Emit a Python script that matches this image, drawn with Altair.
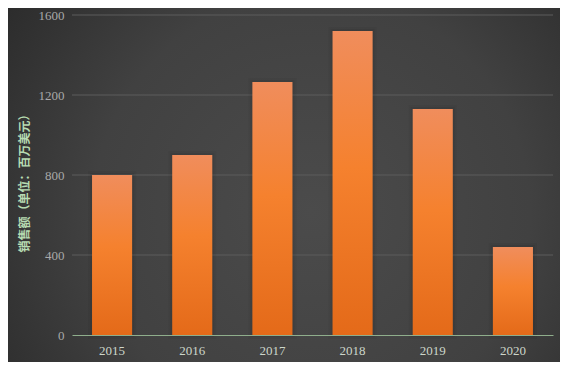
import altair as alt
import pandas as pd

years = ["2015", "2016", "2017", "2018", "2019", "2020"]
sales = [800, 900, 1265, 1520, 1130, 440]
y_ticks = [0, 400, 800, 1200, 1600]
y_title = "销售额（单位：百万美元）"

df = pd.DataFrame({"year": years, "sales": sales})
grid_df = pd.DataFrame({"sales": y_ticks[1:]})

W, H = 481, 320
PL, PT, PR, PB = 64, 7, 7, 27

y_scale = alt.Scale(domain=[0, 1600], nice=False)
y_axis = alt.Axis(values=y_ticks, title=y_title, domain=False, ticks=False,
                  grid=False, zindex=2, format="d",
                  labelPadding=8, labelColor="#a9a9a9",
                  labelFont="Liberation Serif", labelFontSize=13,
                  titleColor="#b7dcb2", titleFont="Noto Sans CJK SC",
                  titleFontSize=12, titleFontWeight="bold",
                  titleAngle=-90, titleX=-48, titleY=165,
                  titleAlign="center", titleBaseline="middle")

bg = alt.Chart(pd.DataFrame({"a": [0]})).mark_rect(
    clip=False,
    fill={
        "gradient": "radial",
        "x1": 0.55, "y1": 0.55, "r1": 0,
        "x2": 0.55, "y2": 0.55, "r2": 0.72,
        "stops": [
            {"offset": 0, "color": "#4b4b4b"},
            {"offset": 0.55, "color": "#414141"},
            {"offset": 1, "color": "#282828"},
        ],
    },
).encode(
    x=alt.value(-PL), x2=alt.value(W + PR),
    y=alt.value(-PT), y2=alt.value(H + PB),
)

grid = alt.Chart(grid_df).mark_rule(color="#5c5c5c", strokeWidth=1).encode(
    y=alt.Y("sales:Q", axis=y_axis, scale=y_scale),
    x=alt.value(0), x2=alt.value(W),
)

base = alt.Chart(df).encode(
    x=alt.X("year:N", sort=years,
            scale=alt.Scale(paddingInner=0.5, paddingOuter=0.25),
            axis=alt.Axis(title=None, labelAngle=0, domainColor="#8fae8c",
                          domainWidth=1, ticks=False, labelPadding=9,
                          labelColor="#cdd6ca", labelFont="Liberation Serif",
                          labelFontSize=13, grid=False, zindex=2)),
    y=alt.Y("sales:Q", axis=y_axis, scale=y_scale),
)

shadow1 = base.mark_bar(fillOpacity=0, stroke="#000000",
                        strokeOpacity=0.04, strokeWidth=8)
shadow2 = base.mark_bar(fillOpacity=0, stroke="#000000",
                        strokeOpacity=0.05, strokeWidth=4)

bars = base.mark_bar(
    fill={
        "gradient": "linear",
        "x1": 0, "y1": 0, "x2": 0, "y2": 1,
        "stops": [
            {"offset": 0, "color": "#f08d5c"},
            {"offset": 0.45, "color": "#f5812e"},
            {"offset": 1, "color": "#e46a19"},
        ],
    }
)

chart = alt.layer(bg, grid, shadow1, shadow2, bars).properties(
    width=W, height=H,
    autosize=alt.AutoSizeParams(type="none"),
    padding={"left": PL, "top": PT, "right": PR, "bottom": PB},
    background="#333333",
).configure_view(stroke=None)

chart.save("out.html", embed_options={"renderer": "svg", "actions": False})
